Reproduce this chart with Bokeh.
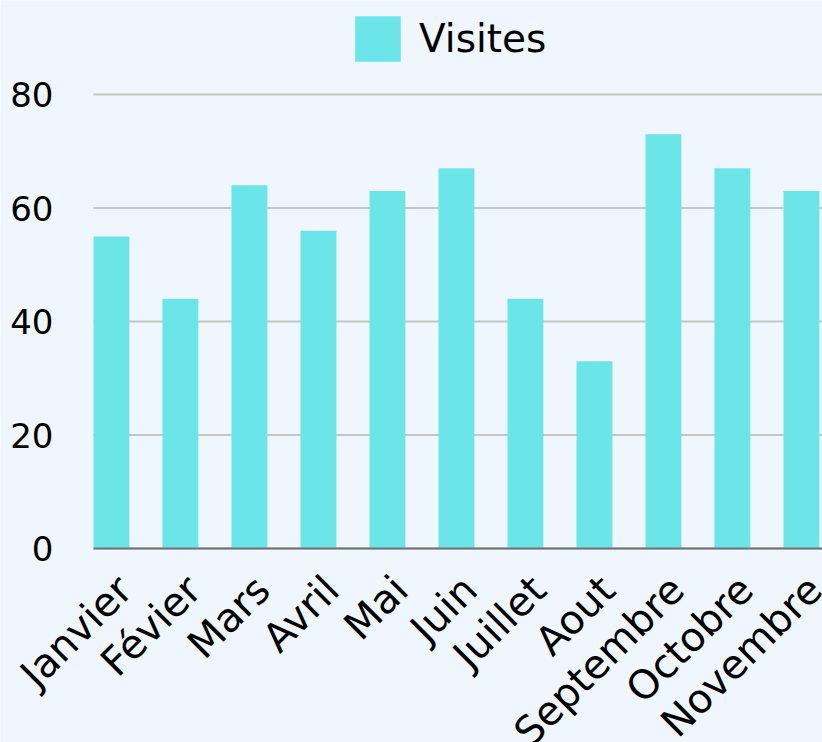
import math
from bokeh.plotting import figure
from bokeh.models import (Range1d, Legend, LegendItem, LabelSet,
                          ColumnDataSource)
from bokeh.core.properties import value
from bokeh.embed import file_html
from bokeh.resources import INLINE

months = ["Janvier", "Févier", "Mars", "Avril", "Mai", "Juin", "Juillet",
          "Aout", "Septembre", "Octobre", "Novembre"]
visits = [55, 44, 64, 56, 63, 67, 44, 33, 73, 67, 63]
y_ticks = [0, 20, 40, 60, 80]
series_name = "Visites"

BG = "#eff6fe"
BAR = "#6ce5e8"
GRID = "#c4c6c8"
AXIS = "#6f7275"
FONT = "DejaVu Sans"

idx = list(range(len(months)))
src = ColumnDataSource(data=dict(x=idx, top=visits, month=months,
                                 base=[0] * len(months)))

# plot area in data units; the frame covers the whole canvas so that the
# rotated labels and y labels are not clipped
PX_PER_CAT = 69.0
PX_PER_UNIT = 5.675
XL = -0.26                      # left edge of the bar area
X0 = XL - 93 / PX_PER_CAT
X1 = XL + 729 / PX_PER_CAT
Y0 = -(742 - 548) / PX_PER_UNIT
Y1 = 548 / PX_PER_UNIT

tick_src = ColumnDataSource(data=dict(
    y=y_ticks, label=[str(t) for t in y_ticks],
    x0=[XL] * len(y_ticks), x1=[X1] * len(y_ticks)))

p = figure(width=822, height=742, output_backend="svg", toolbar_location=None,
           x_range=Range1d(X0, X1), y_range=Range1d(Y0, Y1),
           x_axis_location=None, y_axis_location=None,
           min_border_left=0, min_border_right=0, min_border_top=0,
           min_border_bottom=0)
p.background_fill_color = BG
p.border_fill_color = BG
p.outline_line_color = None
p.xgrid.grid_line_color = None
p.ygrid.grid_line_color = None

# horizontal grid lines at the y ticks
p.segment(x0="x0", y0="y", x1="x1", y1="y", source=tick_src,
          line_color=GRID, line_width=2)

r = p.vbar(x="x", top="top", width=0.52, source=src,
           fill_color=BAR, line_color=None)

# baseline (x axis line)
p.segment(x0=[XL], y0=[0], x1=[X1], y1=[0], line_color=AXIS, line_width=2)

# y tick labels
p.add_layout(LabelSet(x="x0", y="y", text="label", source=tick_src,
                      text_align="right", text_baseline="middle",
                      x_offset=-40, text_font=value(FONT),
                      text_font_size="34px", text_color="#000000"))

# rotated category labels
p.add_layout(LabelSet(x="x", y="base", text="month", source=src,
                      angle=math.pi / 4, text_align="right",
                      text_baseline="top", x_offset=-3, y_offset=-18,
                      text_font=value(FONT), text_font_size="40px",
                      text_color="#000000"))

legend = Legend(items=[LegendItem(label=series_name, renderers=[r])],
                location=(349, 675), orientation="horizontal",
                glyph_width=57, glyph_height=57, label_standoff=13,
                padding=0, margin=0, border_line_color=None,
                background_fill_alpha=0,
                label_text_font=FONT, label_text_font_size="39px",
                label_text_color="#000000", label_text_baseline="middle")
p.add_layout(legend)

open("out.html", "w").write(file_html(p, INLINE))
